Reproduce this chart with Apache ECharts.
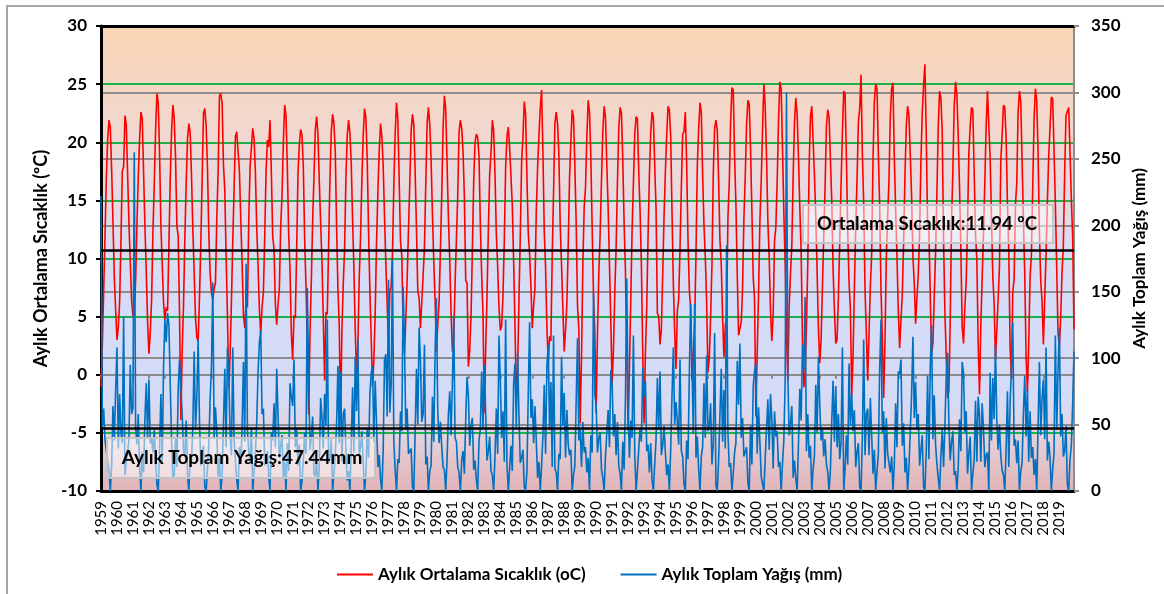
<!DOCTYPE html>
<html>
<head>
<meta charset="utf-8">
<script src="https://cdn.jsdelivr.net/npm/echarts@6/dist/echarts.min.js"></script>
<style>
html,body{margin:0;padding:0;background:#fff;}
#chart{width:1164px;height:594px;}
</style>
</head>
<body>
<div id="chart"></div>
<script>
// ---- DATA ----
const years = [1959,1960,1961,1962,1963,1964,1965,1966,1967,1968,1969,1970,1971,1972,1973,1974,1975,1976,1977,1978,1979,1980,1981,1982,1983,1984,1985,1986,1987,1988,1989,1990,1991,1992,1993,1994,1995,1996,1997,1998,1999,2000,2001,2002,2003,2004,2005,2006,2007,2008,2009,2010,2011,2012,2013,2014,2015,2016,2017,2018,2019];

// Monthly mean temperature (°C), one row per year Jan..Dec
const temperature = [
[-1.0,2.5,7.2,11.8,16.9,20.2,21.9,21.3,17.6,13.1,8.4,5.6],
[3.0,4.1,6.3,11.5,17.5,17.9,22.3,21.5,17.2,13.0,9.7,6.4],
[5.0,5.6,8.1,12.9,17.0,20.3,22.6,22.0,17.4,12.8,8.9,4.6],
[1.8,3.6,6.4,12.2,16.3,21.0,24.2,23.4,19.0,12.9,9.5,6.2],
[4.7,5.8,5.5,11.0,16.7,20.9,23.2,22.1,18.7,12.8,11.9,5.3],
[-3.9,2.1,6.0,11.8,16.4,20.3,21.6,20.8,17.1,12.5,8.8,4.9],
[3.2,2.9,6.7,11.3,16.9,22.5,22.9,21.4,17.8,12.1,8.7,7.0],
[6.5,7.4,7.9,13.4,17.5,24.0,24.2,23.3,18.1,15.9,10.2,5.1],
[-1.2,1.7,6.3,11.6,16.0,20.5,20.9,21.0,17.5,13.4,9.6,5.2],
[4.0,6.2,5.8,13.2,17.9,17.9,21.2,20.3,17.4,12.6,9.4,5.6],
[3.5,5.8,7.1,11.9,17.4,20.2,19.6,21.9,17.3,11.9,10.8,6.1],
[4.3,6.0,7.4,12.7,15.4,20.0,23.2,22.3,17.8,12.1,9.1,3.6],
[1.3,5.1,4.9,10.8,17.3,19.8,21.1,20.6,17.9,11.7,7.6,2.9],
[-3.4,3.5,8.0,13.2,17.0,21.1,22.2,20.7,16.6,13.1,9.8,4.9],
[-0.5,5.4,5.2,11.1,16.8,20.9,22.4,21.6,19.2,12.7,7.4,4.2],
[-4.0,3.9,7.8,10.8,16.9,20.6,21.9,20.8,18.2,13.4,9.2,3.8],
[0.0,2.6,8.3,11.9,16.8,20.6,22.9,22.1,18.6,12.4,7.3,3.1],
[-1.0,1.3,5.3,11.4,15.6,19.2,21.6,20.5,18.0,13.6,9.6,6.1],
[2.5,7.2,7.6,10.5,16.3,20.7,23.4,22.0,16.9,11.5,10.2,4.0],
[1.8,4.9,8.2,12.4,16.5,21.0,22.4,21.5,17.6,12.6,7.2,6.6],
[4.0,6.3,8.5,10.9,16.4,21.6,23.0,21.5,18.5,13.8,9.8,6.4],
[2.0,4.4,6.2,10.7,15.5,21.2,24.0,22.8,18.2,13.5,9.9,5.3],
[2.0,3.1,7.8,11.6,15.4,20.9,21.9,21.2,19.2,15.3,8.1,7.9],
[0.7,2.1,5.0,10.7,16.6,20.0,20.7,20.4,18.8,12.9,8.6,5.1],
[-3.3,2.2,6.7,12.4,17.2,19.1,21.9,21.0,17.3,12.1,9.3,5.8],
[3.8,4.2,6.8,11.6,17.8,20.5,21.3,19.5,19.4,14.6,9.8,4.4],
[-2.0,0.4,6.4,11.9,18.3,20.4,23.5,22.4,17.0,12.2,10.4,7.6],
[4.0,5.9,7.4,14.0,17.8,20.5,22.9,24.5,19.2,12.4,9.2,4.1],
[1.0,3.3,2.9,10.2,15.7,21.6,22.6,21.6,18.9,12.9,9.4,5.7],
[2.0,3.8,6.1,11.0,16.9,20.1,22.8,22.1,18.0,13.0,5.9,3.9],
[-4.2,1.4,9.4,14.4,16.1,20.4,23.6,22.6,18.8,12.6,6.9,3.6],
[-3.3,3.5,8.7,12.1,16.7,20.9,23.1,22.2,18.1,14.4,9.5,4.6],
[-0.9,2.2,7.1,10.9,16.6,21.2,23.0,22.5,18.5,13.1,8.9,2.1],
[-4.8,0.6,6.4,12.4,16.5,20.7,22.2,22.0,17.4,14.1,9.4,1.8],
[-4.2,1.8,5.8,11.9,17.1,20.8,22.6,22.1,18.0,14.3,5.3,5.0],
[2.6,3.9,8.6,13.6,17.4,20.6,23.1,22.8,20.5,13.9,7.8,3.6],
[0.5,5.5,6.5,10.8,16.1,20.7,20.9,22.6,18.1,11.6,7.3,5.7],
[-0.5,1.6,4.4,10.3,18.0,21.1,23.4,22.6,17.2,12.9,10.1,6.3],
[0.2,1.4,5.0,9.4,17.3,21.2,21.9,21.0,16.8,11.6,9.5,4.9],
[1.5,4.3,4.9,13.5,16.5,21.6,24.7,24.5,18.8,14.7,8.7,3.4],
[3.3,4.5,7.5,13.4,17.0,21.5,23.6,23.3,19.4,14.1,8.4,6.5],
[-3.6,1.9,6.9,13.1,16.6,21.1,25.0,23.1,18.8,13.2,10.1,5.4],
[2.9,5.2,11.5,12.7,16.6,21.8,25.2,24.6,19.5,14.0,9.5,3.6],
[-0.5,5.8,8.7,11.1,17.0,21.7,23.8,22.4,18.7,14.4,10.6,3.1],
[-1.1,0.0,4.2,9.6,17.9,22.2,23.1,23.1,17.2,13.6,8.9,3.9],
[1.0,3.0,7.6,12.0,16.2,21.4,22.8,22.2,18.5,15.0,9.1,5.6],
[2.7,3.0,6.7,11.5,16.4,20.8,24.4,24.2,18.8,12.3,7.9,5.7],
[-1.8,1.6,7.4,12.7,16.8,21.7,22.9,25.8,19.0,14.8,7.3,3.5],
[-0.5,-0.4,7.6,10.4,18.5,23.5,25.0,24.6,19.1,14.5,7.3,3.2],
[-2.0,2.8,10.1,13.6,16.8,22.2,24.6,25.1,18.7,14.2,10.2,5.5],
[2.3,4.7,6.9,11.4,17.1,21.4,23.1,22.3,18.9,15.3,10.1,7.9],
[4.4,6.6,8.6,12.1,18.4,22.5,24.9,26.7,20.6,13.0,12.2,6.9],
[1.8,2.7,6.7,10.5,15.6,21.3,24.4,23.8,20.9,11.6,5.4,5.5],
[-2.0,-1.4,4.6,13.2,17.6,23.1,25.2,24.1,20.6,16.1,10.8,4.1],
[2.7,5.8,8.0,12.9,19.1,21.3,23.0,22.8,17.4,12.1,9.9,2.8],
[-1.7,4.2,8.3,12.2,16.5,21.4,24.4,24.3,18.6,13.5,8.4,6.2],
[1.3,3.8,6.5,9.3,18.4,20.6,23.2,23.0,20.4,14.7,10.6,2.4],
[-0.3,7.1,8.2,14.6,16.5,22.6,24.4,23.5,18.4,13.3,8.6,1.6],
[-1.5,2.7,8.4,10.3,16.2,21.9,24.6,23.6,19.2,12.3,8.1,6.3],
[2.6,6.5,10.3,14.9,18.8,21.3,23.9,23.7,19.3,14.7,9.2,3.6],
[2.4,4.9,8.8,11.1,17.5,22.3,22.4,23.0,19.2,15.1,11.9,3.9]
];

// Monthly total precipitation (mm), one row per year Jan..Dec
const precipitation = [
[222,48,62,38,30,22,16,0,19,64,38,76],
[108,32,73,44,36,131,12,23,28,40,95,58],
[62,255,48,35,58,17,0,29,14,55,81,40],
[84,36,39,29,46,24,5,0,31,73,22,93],
[129,112,134,125,126,38,9,12,40,18,77,99],
[99,58,30,27,53,12,0,26,22,48,105,46],
[71,114,52,19,28,34,3,0,17,35,69,94],
[157,40,63,44,11,25,0,11,50,92,33,108],
[86,43,27,108,40,22,8,0,33,21,47,97],
[37,171,46,30,21,48,0,14,29,52,90,112],
[121,58,62,19,26,30,10,0,44,38,66,33],
[92,57,25,34,42,9,22,0,36,15,81,71],
[64,99,33,47,19,35,0,7,23,44,28,153],
[88,31,40,56,13,11,24,0,18,70,56,32],
[73,49,129,21,24,39,0,13,27,50,94,36],
[90,22,58,62,31,8,15,0,35,78,29,101],
[60,115,27,33,45,21,0,12,46,25,72,89],
[94,37,83,51,18,27,9,0,30,99,103,56],
[159,59,80,174,37,16,0,24,21,60,45,154],
[110,46,62,28,30,32,3,0,43,92,50,123],
[98,52,58,110,20,26,0,15,19,71,37,104],
[145,60,36,52,33,18,16,0,24,58,75,42],
[81,132,40,37,18,14,0,23,30,13,54,86],
[72,34,49,55,16,23,8,0,38,47,90,47],
[95,58,23,30,41,15,12,0,26,62,28,117],
[83,40,60,22,129,20,0,17,34,15,81,96],
[48,104,57,21,25,31,3,0,15,73,127,55],
[69,36,64,38,10,22,0,19,41,80,28,94],
[110,46,82,18,117,17,14,0,28,24,101,49],
[74,25,61,35,27,31,0,12,19,68,115,38],
[46,18,52,29,33,14,25,0,42,29,149,72],
[65,29,40,44,16,10,0,26,25,61,33,91],
[80,41,58,27,52,19,13,0,37,16,69,160],
[62,25,53,40,117,28,0,15,14,48,37,93],
[71,83,30,35,14,36,8,0,20,39,85,46],
[90,27,34,49,29,12,20,0,31,72,108,50],
[67,52,35,99,30,26,5,0,38,24,88,141],
[94,43,141,25,41,17,0,26,33,81,40,102],
[45,48,66,20,35,119,4,0,23,57,92,37],
[76,32,185,43,18,21,0,13,29,36,98,65],
[111,40,55,26,27,33,6,0,49,20,79,90],
[96,28,63,37,11,10,0,24,24,69,31,73],
[54,17,60,41,45,18,22,0,21,38,82,300],
[87,42,51,64,10,23,9,0,35,77,53,110],
[91,146,30,58,25,34,0,16,27,80,44,101],
[65,38,47,26,39,20,14,0,16,52,83,37],
[79,33,58,24,36,108,0,17,42,20,96,49],
[73,45,61,18,29,36,3,0,40,114,27,58],
[62,27,70,42,13,31,0,15,28,91,129,44],
[60,17,55,28,27,14,26,0,20,66,33,90],
[88,99,34,51,14,25,0,18,45,73,116,55],
[82,46,58,19,31,42,3,0,30,87,24,93],
[125,39,72,35,20,19,0,26,46,18,49,86],
[104,50,23,37,45,12,15,0,17,54,30,97],
[89,44,60,13,28,41,0,13,23,68,22,71],
[57,22,66,47,18,27,29,0,89,38,85,54],
[110,53,31,50,26,16,12,0,32,75,18,66],
[92,127,34,39,21,38,0,15,21,59,87,41],
[78,22,60,25,33,12,24,0,49,97,42,70],
[84,39,108,23,37,25,0,17,28,117,46,90],
[123,41,58,26,30,49,5,0,24,34,66,105]
];

const tempMeanLineAt = 10.7;      // drawn position of the temperature mean line (left axis)
const precipMean = 47.44;         // precipitation mean (right axis)
const tempLabel = 'Ortalama Sıcaklık:11.94 ºC';
const precipLabel = 'Aylık Toplam Yağış:47.44mm';
const seriesNames = ['Aylık Ortalama Sıcaklık (oC)', 'Aylık Toplam Yağış (mm)'];
const leftAxisName = 'Aylık Ortalama Sıcaklık (ºC)';
const rightAxisName = 'Aylık Toplam Yağış (mm)';

// ---- BUILD ----
const categories = [];
years.forEach(y => { for (let m = 1; m <= 12; m++) categories.push(y + '-' + m); });
const tempData = temperature.flat();
const precData = precipitation.flat();

const FONT = 'Lato, "Open Sans", sans-serif';
const chart = echarts.init(document.getElementById('chart'), null, {renderer: 'canvas'});

chart.setOption({
  animation: false,
  textStyle: {fontFamily: FONT},
  grid: {
    left: 101, top: 26, right: 90, bottom: 103,
    show: true, borderWidth: 0,
    backgroundColor: {
      type: 'linear', x: 0, y: 0, x2: 0, y2: 1,
      colorStops: [
        {offset: 0, color: '#f9d4b3'},
        {offset: 0.25, color: '#f0d8d2'},
        {offset: 0.45, color: '#dcdcee'},
        {offset: 0.6, color: '#d3dcf8'},
        {offset: 0.8, color: '#d5dbf6'},
        {offset: 0.88, color: '#e6d2dc'},
        {offset: 1, color: '#e0b4b8'}
      ]
    }
  },
  legend: {
    top: 561, left: 332,
    itemWidth: 36, itemHeight: 2, itemGap: 35,
    textStyle: {fontFamily: FONT, fontSize: 17, color: '#000', fontWeight: 'bold'},
    data: [
      {name: seriesNames[0], icon: 'rect', itemStyle: {color: '#ff0000'}},
      {name: seriesNames[1], icon: 'rect', itemStyle: {color: '#0070c0'}}
    ]
  },
  xAxis: [
    {
      type: 'category', data: categories, boundaryGap: false, position: 'bottom',
      axisLine: {onZero: false, lineStyle: {color: '#000', width: 3}},
      axisTick: {show: false},
      axisLabel: {
        interval: 11, rotate: 90, fontSize: 15, color: '#000', margin: 10, fontFamily: FONT,
        formatter: v => v.split('-')[0]
      },
      splitLine: {show: false}
    },
    {
      type: 'category', data: categories, boundaryGap: false, position: 'bottom',
      axisLine: {onZero: true, onZeroAxisIndex: 0, lineStyle: {color: '#8c8c8c', width: 2}},
      axisTick: {show: true, interval: 11, length: 4, lineStyle: {color: '#8c8c8c', width: 2}},
      axisLabel: {show: false},
      splitLine: {show: false}
    },
    {
      type: 'category', data: categories, boundaryGap: false, position: 'top',
      axisLine: {onZero: false, lineStyle: {color: '#000', width: 3}},
      axisTick: {show: false}, axisLabel: {show: false}, splitLine: {show: false}
    }
  ],
  yAxis: [
    {
      type: 'value', min: -10, max: 30, interval: 5, position: 'left',
      name: leftAxisName, nameLocation: 'middle', nameRotate: 90, nameGap: 49,
      nameTextStyle: {fontFamily: FONT, fontSize: 18, fontWeight: 'bold', color: '#000'},
      axisLine: {show: true, lineStyle: {color: '#000', width: 3}},
      axisTick: {show: true, length: 5, lineStyle: {color: '#000', width: 2}},
      axisLabel: {fontFamily: FONT, fontSize: 17, fontWeight: 'bold', color: '#000', margin: 14},
      splitLine: {show: true, lineStyle: {color: '#1db14a', width: 2}}
    },
    {
      type: 'value', min: 0, max: 350, interval: 50, position: 'right',
      name: rightAxisName, nameLocation: 'middle', nameRotate: 90, nameGap: 55,
      nameTextStyle: {fontFamily: FONT, fontSize: 17, fontWeight: 'bold', color: '#000'},
      axisLine: {show: true, lineStyle: {color: '#8c8c8c', width: 2}},
      axisTick: {show: true, length: 5, lineStyle: {color: '#8c8c8c', width: 2}},
      axisLabel: {fontFamily: FONT, fontSize: 17, fontWeight: 'bold', color: '#000', margin: 17},
      splitLine: {show: true, lineStyle: {color: '#8c8c8c', width: 2}}
    }
  ],
  series: [
    {
      name: seriesNames[0], type: 'line', xAxisIndex: 0, yAxisIndex: 0,
      data: tempData, showSymbol: false, symbol: 'none',
      lineStyle: {color: '#ff0000', width: 1.6}, itemStyle: {color: '#ff0000'},
      markLine: {
        silent: true, symbol: 'none', label: {show: false},
        lineStyle: {color: '#000', width: 2.5, type: 'solid'},
        data: [{yAxis: tempMeanLineAt}]
      },
      z: 3
    },
    {
      name: seriesNames[1], type: 'line', xAxisIndex: 0, yAxisIndex: 1,
      data: precData, showSymbol: false, symbol: 'none',
      lineStyle: {color: '#0070c0', width: 1.6}, itemStyle: {color: '#0070c0'},
      markLine: {
        silent: true, symbol: 'none', label: {show: false},
        lineStyle: {color: '#000', width: 2.5, type: 'solid'},
        data: [{yAxis: precipMean}]
      },
      z: 4
    }
  ],
  graphic: [
    {
      type: 'rect', z: 0, silent: true,
      shape: {x: 7, y: 6, width: 1200, height: 620},
      style: {fill: 'none', stroke: '#a6a6a6', lineWidth: 2}
    },
    {
      type: 'rect', z: 100, silent: true,
      shape: {x: 803, y: 205, width: 250, height: 38},
      style: {fill: 'rgba(255,255,255,0.5)', stroke: '#c4c4c4', lineWidth: 2}
    },
    {
      type: 'text', z: 101, silent: true,
      style: {text: tempLabel, x: 927, y: 224, font: 'bold 18.5px ' + FONT, fill: '#000', align: 'center', verticalAlign: 'middle', textAlign: 'center', textVerticalAlign: 'middle'}
    },
    {
      type: 'rect', z: 100, silent: true,
      shape: {x: 107, y: 438, width: 268, height: 40},
      style: {fill: 'rgba(255,255,255,0.5)', stroke: '#c4c4c4', lineWidth: 2}
    },
    {
      type: 'text', z: 101, silent: true,
      style: {text: precipLabel, x: 242, y: 458, font: 'bold 19px ' + FONT, fill: '#000', align: 'center', verticalAlign: 'middle', textAlign: 'center', textVerticalAlign: 'middle'}
    }
  ]
});
</script>
</body>
</html>
